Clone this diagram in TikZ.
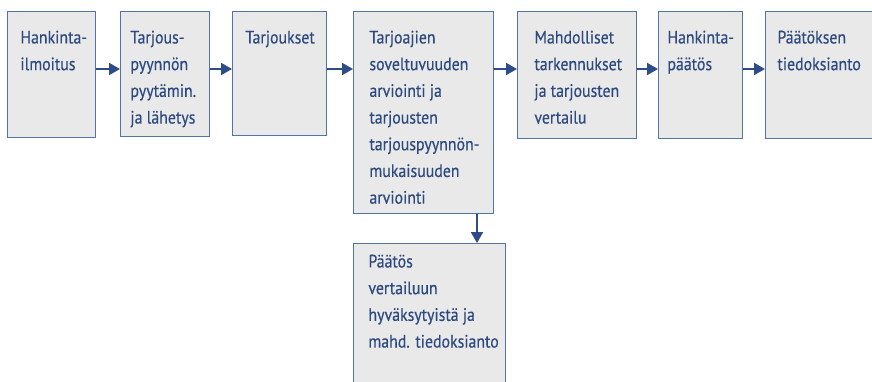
\documentclass[tikz,border=0pt]{standalone}
\usepackage{fontspec}
\setmainfont{PT Sans}
\newfontfamily\stagefont[FakeStretch=0.88,FakeBold=0.4]{PT Sans}
\usepackage{xcolor}
\usetikzlibrary{arrows.meta,positioning}
\definecolor{boxline}{HTML}{5473A8}
\definecolor{boxfill}{HTML}{E9E9E9}
\definecolor{ink}{HTML}{2D4A80}
\definecolor{flowcol}{HTML}{2E4C88}
% teksti laatikon ylareunaan: leveys, korkeus, ensimmaisen rivin korkeus, vasen reuna, rivit
\newcommand{\stagetext}[5]{\parbox[t][#2][t]{#1}{\raggedright\leftskip=#4\relax\rule{0pt}{#3}#5}}
\tikzset{%
	stage/.style = {draw=boxline, fill=boxfill, text=ink, line width=0.9pt, anchor=north west, inner sep=0pt, font=\stagefont\fontsize{18}{26.7}\selectfont},
	flow/.style  = {draw=flowcol, line width=2pt, -{Triangle[length=11pt,width=12pt]}},
}
\begin{document}
\begin{tikzpicture}[x=1pt,y=-1pt]
	\clip (0,0) rectangle (872,382);
	\fill[white] (0,0) rectangle (872,382);
	\node[stage] (ilmoitus)   at (7,11)   {\stagetext{88pt}{126pt}{32pt}{13pt}{Hankinta-\\ilmoitus}};
	\node[stage] (pyynto)     at (120,11) {\stagetext{89pt}{125pt}{32pt}{10pt}{Tarjous-\\pyynnön\\pyytämin.\\ja lähetys}};
	\node[stage] (tarjoukset) at (232,11) {\stagetext{94pt}{124pt}{32pt}{13pt}{Tarjoukset}};
	\node[stage] (arviointi)  at (353,11) {\stagetext{140pt}{202pt}{32pt}{16pt}{Tarjoajien\\soveltuvuuden\\arviointi ja\\tarjousten\\tarjouspyynnön-\\mukaisuuden\\arviointi}};
	\node[stage] (vertailu)   at (517,11) {\stagetext{119pt}{127pt}{32pt}{17pt}{Mahdolliset\\tarkennukset\\ja tarjousten\\vertailu}};
	\node[stage] (paatos)     at (658,11) {\stagetext{84pt}{127pt}{32pt}{9pt}{Hankinta-\\päätös}};
	\node[stage] (tiedoksi)   at (765,11) {\stagetext{120pt}{127pt}{32pt}{12pt}{Päätöksen\\tiedoksianto}};
	\node[stage] (hyvaksytyt) at (353,243) {\stagetext{152pt}{150pt}{24pt}{15pt}{Päätös\\vertailuun\\hyväksytyistä ja\\mahd. tiedoksianto}};
	% vaiheiden valiset nuolet
	\draw[flow] ([yshift=-58pt]ilmoitus.north east)   -- ([yshift=-58pt]pyynto.north west);
	\draw[flow] ([yshift=-58pt]pyynto.north east)     -- ([yshift=-58pt]tarjoukset.north west);
	\draw[flow] ([yshift=-58pt]tarjoukset.north east) -- ([yshift=-58pt]arviointi.north west);
	\draw[flow] ([yshift=-58pt]arviointi.north east)  -- ([yshift=-58pt]vertailu.north west);
	\draw[flow] ([yshift=-58pt]vertailu.north east)   -- ([yshift=-58pt]paatos.north west);
	\draw[flow] ([yshift=-58pt]paatos.north east)     -- ([yshift=-58pt]tiedoksi.north west);
	\draw[flow] ([xshift=124pt]arviointi.south west)  -- ([xshift=124pt]hyvaksytyt.north west);
\end{tikzpicture}
\end{document}
